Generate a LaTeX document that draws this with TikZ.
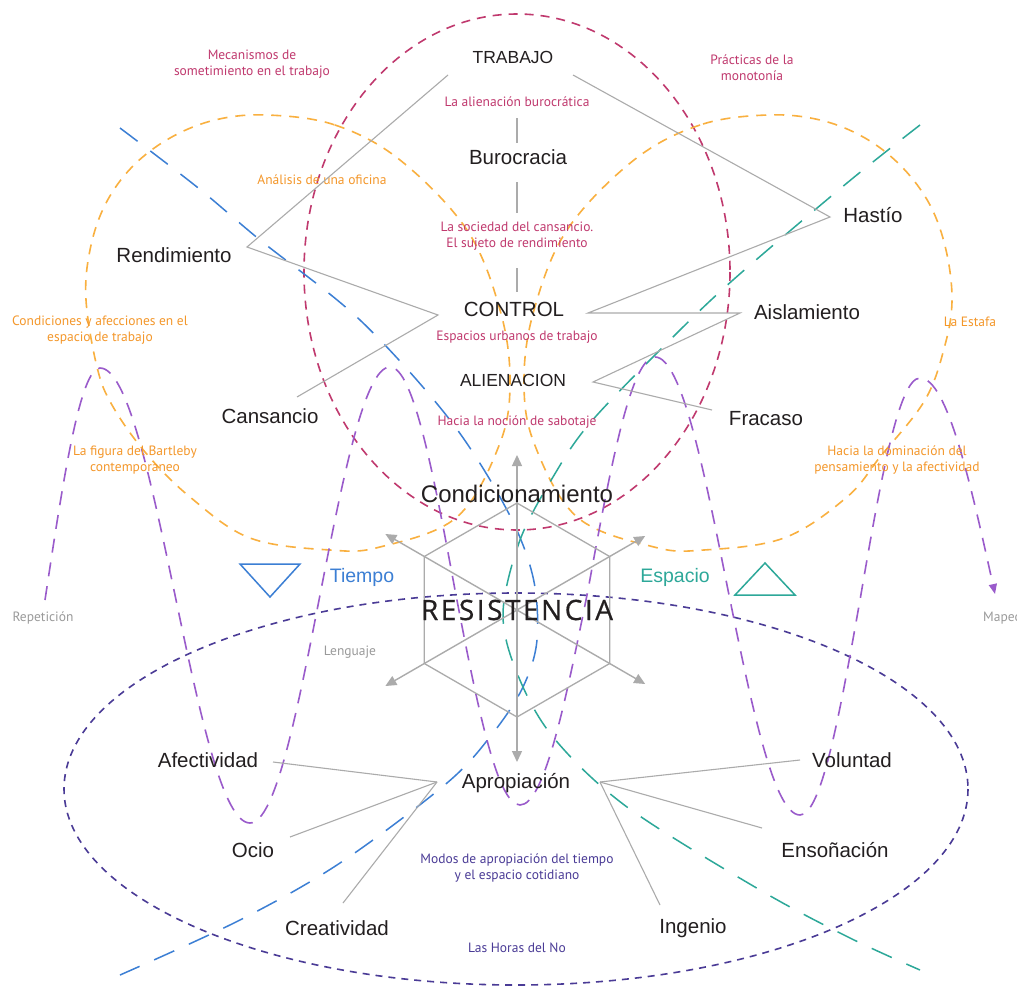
\documentclass[tikz,border=0pt]{standalone}
\usepackage{fontspec}
\setmainfont{Liberation Sans}
\newfontfamily\notefont{PT Sans}
\newfontfamily\resfont[LetterSpace=9,FakeBold=0.6]{Open Sans}
\usetikzlibrary{arrows.meta}
\definecolor{mapInk}{HTML}{231F20}
\definecolor{mapCrimson}{HTML}{C0396E}
\definecolor{mapOrange}{HTML}{F9B040}
\definecolor{mapOrangeText}{HTML}{F4972A}
\definecolor{mapIndigo}{HTML}{4A3B96}
\definecolor{mapViolet}{HTML}{9A5BCB}
\definecolor{mapBlue}{HTML}{3C7FD4}
\definecolor{mapTeal}{HTML}{2DA899}
\definecolor{mapGray}{HTML}{ABABAB}
\definecolor{mapGrayText}{HTML}{9A9A9A}
\tikzset{
  every picture/.style={text=mapInk},
  map word/.style={font=\fontsize{20.5}{24}\selectfont, inner sep=0pt},
  map caps/.style={font=\fontsize{17.5}{21}\selectfont, inner sep=0pt},
  map note/.style={font=\notefont\fontsize{13.5}{16}\selectfont, align=center, inner sep=0pt},
  map small/.style={font=\notefont\fontsize{13.5}{16}\selectfont, inner sep=0pt, text=mapGrayText},
  map link/.style={draw=mapGray, line width=1.1pt},
  map axis/.style={draw=mapGray, line width=1.4pt,
    {Triangle[length=11pt,width=10pt]}-{Triangle[length=11pt,width=10pt]}},
  map crimson ring/.style={draw=mapCrimson, line width=1.6pt, dash pattern=on 9pt off 7pt},
  map orange ring/.style={draw=mapOrange, line width=1.6pt, dash pattern=on 10pt off 8pt},
  map hours ring/.style={draw=mapIndigo, line width=1.6pt, dash pattern=on 7pt off 6pt},
  map time path/.style={draw=mapBlue, line width=1.5pt, dash pattern=on 22pt off 16pt},
  map space path/.style={draw=mapTeal, line width=1.5pt, dash pattern=on 22pt off 16pt},
  map wave/.style={draw=mapViolet, line width=1.6pt, dash pattern=on 14pt off 10pt,
    -{Triangle[length=10pt,width=8pt]}}
}

\begin{document}
\begin{tikzpicture}[x=1pt,y=-1pt]
  \useasboundingbox[fill=white] (0,0) rectangle (1017,990);
  \clip (0,0) rectangle (1017,990);
  % dashed fields
  \draw[map crimson ring] (517,272) ellipse [x radius=213, y radius=258];
  \draw[map orange ring] plot[smooth cycle,tension=0.6] coordinates {
    (267,115) (335,125) (400,160) (467,230) (500,310) (510,380) (500,443)
    (457,517) (380,547) (330,550) (250,538) (190,497) (145,452) (112,405)
    (97,367) (86,300) (90,250) (105,205) (132,167) (170,138) (215,120)};
  \draw[map orange ring] plot[smooth cycle,tension=0.6] coordinates {
    (767,115) (700,125) (634,160) (567,230) (534,310) (524,380) (534,443)
    (577,517) (654,547) (704,550) (784,538) (847,497) (880,457) (925,400)
    (945,345) (952,300) (946,250) (930,205) (902,167) (865,138) (820,120)};
  \draw[map hours ring] (516,789) ellipse [x radius=452, y radius=196];
  \draw[map time path] plot[smooth,tension=0.55] coordinates {
    (120,128) (197,187) (260,240) (360,320) (450,420) (507,510) (533,577)
    (537,640) (523,687) (493,733) (447,783) (340,863) (240,920) (120,975)};
  \draw[map space path] plot[smooth,tension=0.55] coordinates {
    (920,125) (847,183) (733,280) (667,343) (590,423) (553,477) (520,540)
    (503,613) (517,673) (553,737) (627,807) (760,890) (850,938) (920,970)};
  \draw[map wave] (45,600) sin (100,368) cos (175,595) sin (250,823)
    cos (320,595) sin (390,367) cos (455,590) sin (520,805) cos (588,590)
    sin (655,357) cos (728,590) sin (800,815) cos (860,600) sin (920,378)
    cos (995,594);

  % resistencia cube
  \coordinate (hexc) at (517,610);
  \draw[map link, line width=1.3pt] (hexc) +(90:107) -- +(150:107) -- +(210:107)
    -- +(270:107) -- +(330:107) -- +(30:107) -- cycle;
  \draw[map axis] (517,455) -- (517,762);
  \draw[map axis] (hexc) ++(150:152) coordinate (axLL) -- ++(330:300) coordinate (axUR);
  \draw[map axis] (hexc) ++(210:152) coordinate (axUL) -- ++(30:300) coordinate (axLR);
  \draw[mapBlue, line width=1.5pt] (240,564) -- (300,564) -- (270,597) -- cycle;
  \draw[mapTeal, line width=1.5pt] (735,595) -- (795,595) -- (765,563) -- cycle;

  % black labels
  \node[map caps] (trab) at (513,57) {TRABAJO};
  \node[map word] (buro) at (518,157) {Burocracia};
  \node[map word] (ctrl) at (514,309) {CONTROL};
  \node[map caps] (alien) at (513,380) {ALIENACION};
  \node[map word] (rend) at (174,255) {Rendimiento};
  \node[map word] (cans) at (270,416) {Cansancio};
  \node[map word] (hast) at (873,215) {Hastío};
  \node[map word] (aisl) at (807,312) {Aislamiento};
  \node[map word] (frac) at (766,419) {Fracaso};
  \node[map word, font=\fontsize{24}{28}\selectfont] (cond) at (517,494) {Condicionamiento};
  \node[inner sep=0pt, font=\resfont\fontsize{28}{32}\selectfont] (res) at (517,610) {RESISTENCIA};
  \node[map word] (afec) at (208,760) {Afectividad};
  \node[map word] (ocio) at (253,850) {Ocio};
  \node[map word] (crea) at (337,928) {Creatividad};
  \node[map word] (apro) at (516,783) {Apropiación};
  \node[map word] (volu) at (852,760) {Voluntad};
  \node[map word] (enso) at (835,850) {Ensoñación};
  \node[map word] (inge) at (693,928) {Ingenio};
  \node[map word, text=mapBlue, font=\fontsize{19.5}{23}\selectfont] (tiem) at (362,577) {Tiempo};
  \node[map word, text=mapTeal, font=\fontsize{19.5}{23}\selectfont] (espa) at (675,577) {Espacio};

  % colored notes
  \node[map note, text=mapCrimson] (mecan) at (252,64) {Mecanismos de\\sometimiento en el trabajo};
  \node[map note, text=mapCrimson] (alibur) at (517,102) {La alienación burocrática};
  \node[map note, text=mapCrimson] (socie) at (517,236) {La sociedad del cansancio.\\El sujeto de rendimiento};
  \node[map note, text=mapCrimson] (urban) at (517,337) {Espacios urbanos de trabajo};
  \node[map note, text=mapCrimson] (sabot) at (517,422) {Hacia la noción de sabotaje};
  \node[map note, text=mapCrimson] (monot) at (752,68) {Prácticas de la\\monotonía};
  \node[map note, text=mapOrangeText] (ofici) at (322,180) {Análisis de una oficina};
  \node[map note, text=mapOrangeText] (condi) at (100,330) {Condiciones y afecciones en el\\espacio de trabajo};
  \node[map note, text=mapOrangeText] (bartl) at (135,460) {La figura del Bartleby\\contemporaneo};
  \node[map note, text=mapOrangeText] (estaf) at (970,322) {La Estafa};
  \node[map note, text=mapOrangeText] (domin) at (897,460) {Hacia la dominación del\\pensamiento y la afectividad};
  \node[map note, text=mapIndigo] (modos) at (517,868) {Modos de apropiación del tiempo\\y el espacio cotidiano};
  \node[map note, text=mapIndigo] (horas) at (517,948) {Las Horas del No};
  \node[map small] (leng) at (350,652) {Lenguaje};
  \node[map small] (repet) at (43,618) {Repetición};
  \node[map small, anchor=west] (mapeo) at (983,618) {Mapeo};

  % gray links
  \coordinate (trabL) at (448,75);   \coordinate (rendV) at (247,247);
  \coordinate (ctrlL) at (438,315);  \coordinate (cansE) at (297,397);
  \coordinate (trabR) at (573,75);   \coordinate (hastV) at (830,217);
  \coordinate (ctrlR) at (588,313);  \coordinate (aislW) at (740,313);
  \coordinate (alienR) at (593,382); \coordinate (fracW) at (712,410);
  \draw[map link] (trabL) -- (rendV) -- (ctrlL) -- (cansE);
  \draw[map link] (trabR) -- (hastV) -- (ctrlR) -- (aislW) -- (alienR) -- (fracW);
  \coordinate (aliburS) at (517,118); \coordinate (buroN) at (517,143);
  \coordinate (buroS) at (517,182);   \coordinate (socieN) at (517,213);
  \coordinate (socieS) at (517,268);  \coordinate (ctrlN) at (517,292);
  \draw[map link] (aliburS) -- (buroN);
  \draw[map link] (buroS) -- (socieN);
  \draw[map link] (socieS) -- (ctrlN);
  \coordinate (aproL) at (437,782);  \coordinate (aproR) at (600,782);
  \coordinate (afecE) at (273,762);  \coordinate (ocioE) at (290,837);
  \coordinate (creaE) at (343,903);  \coordinate (voluW) at (800,760);
  \coordinate (ensoW) at (762,828);  \coordinate (ingeN) at (660,905);
  \foreach \leaf in {afecE,ocioE,creaE}
    \draw[map link] (aproL) -- (\leaf);
  \foreach \leaf in {voluW,ensoW,ingeN}
    \draw[map link] (aproR) -- (\leaf);
\end{tikzpicture}
\end{document}
